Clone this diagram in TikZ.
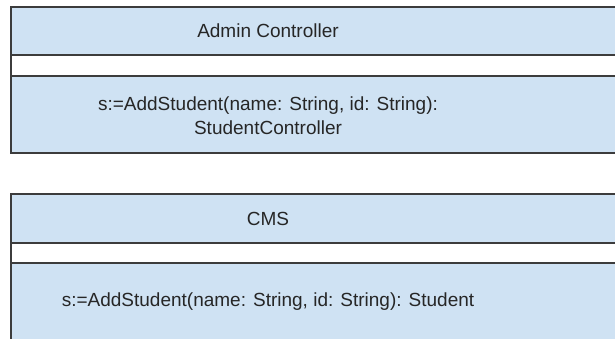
\documentclass[tikz,border=0pt]{standalone}
\usepackage{fontspec}
\setmainfont{Liberation Sans}
\definecolor{umlfill}{HTML}{CFE2F3}
\definecolor{umlline}{HTML}{3C3C3C}
\begin{document}
\begin{tikzpicture}[x=1pt,y=-1pt,
  section/.style={fill=umlfill,draw=umlline,line width=1.8pt},
  gap/.style={fill=white,draw=umlline,line width=1.8pt},
  label/.style={font=\fontsize{19}{24}\selectfont,text=black!85,align=center,inner sep=0pt}]
\useasboundingbox (0,0) rectangle (615,339);
% Box 1: Admin Controller
\draw[section] (11,7) rectangle (640,55);
\draw[gap] (11,55) rectangle (640,76);
\draw[section] (11,76) rectangle (640,153);
\node[label] (ac) at (268,31) {Admin Controller};
\node[label] (acm) at (268,116) {s:=AddStudent(name: String, id: String):\\StudentController};
% Box 2: CMS
\draw[section] (11,194) rectangle (640,243);
\draw[gap] (11,243) rectangle (640,263);
\draw[section] (11,263) rectangle (640,360);
\node[label] (cms) at (268,219) {CMS};
\node[label] (cmsm) at (268,302) {s:=AddStudent(name: String, id: String): Student};
\end{tikzpicture}
\end{document}
